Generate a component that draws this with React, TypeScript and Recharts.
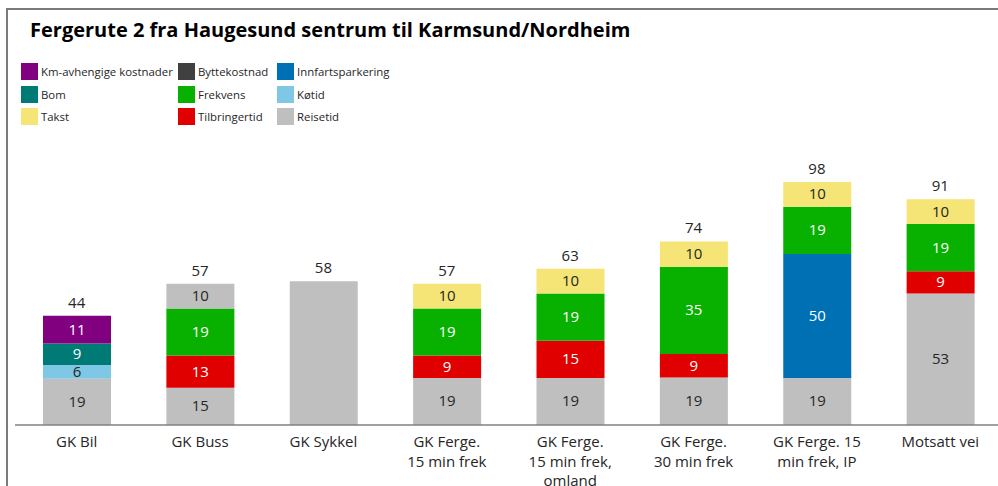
import { ComposedChart, Bar, Line, XAxis, YAxis, LabelList, Cell } from "recharts";

// categories (line breaks as in the original axis labels)
const categories = [
  "GK Bil",
  "GK Buss",
  "GK Sykkel",
  "GK Ferge.\n15 min frek",
  "GK Ferge.\n15 min frek,\nomland",
  "GK Ferge.\n30 min frek",
  "GK Ferge. 15\nmin frek, IP",
  "Motsatt vei",
];

const reisetid = [18.6, 15, 58, 19, 19, 19.2, 19, 53];
const tilbringertid = [0, 13, 0, 9, 15, 9.4, 0, 9];
const kotid = [5.6, 0, 0, 0, 0, 0, 0, 0];
const bom = [8.7, 0, 0, 0, 0, 0, 0, 0];
const kmKost = [11.2, 0, 0, 0, 0, 0, 0, 0];
const innfart = [0, 0, 0, 0, 0, 0, 50, 0];
const frekvens = [0, 19, 0, 19, 19, 35.2, 19, 19];
const takst = [0, 10, 0, 10, 10, 10.2, 10, 10];
const bytte = [0, 0, 0, 0, 0, 0, 0, 0];

const series = [
  { key: "reisetid", name: "Reisetid", values: reisetid, color: "#BFBFBF", text: "#262626" },
  { key: "tilbringertid", name: "Tilbringertid", values: tilbringertid, color: "#E00000", text: "#ffffff" },
  { key: "kotid", name: "Køtid", values: kotid, color: "#7EC8E6", text: "#262626" },
  { key: "bom", name: "Bom", values: bom, color: "#007A74", text: "#ffffff" },
  { key: "km", name: "Km-avhengige kostnader", values: kmKost, color: "#800080", text: "#ffffff" },
  { key: "innfart", name: "Innfartsparkering", values: innfart, color: "#0070B5", text: "#ffffff" },
  { key: "frekvens", name: "Frekvens", values: frekvens, color: "#08B000", text: "#ffffff" },
  { key: "takst", name: "Takst", values: takst, color: "#F5E476", text: "#262626" },
  { key: "bytte", name: "Byttekostnad", values: bytte, color: "#404040", text: "#ffffff" },
];

// legend layout, column by column
const legendColumns = [
  ["km", "bom", "takst"],
  ["bytte", "frekvens", "tilbringertid"],
  ["innfart", "kotid", "reisetid"],
];

const data = categories.map((name, i) => {
  const row: Record<string, number | string> = { name };
  let total = 0;
  series.forEach((s) => {
    row[s.key] = s.values[i];
    total += s.values[i];
  });
  row.total = total;
  return row;
});

const FONT = "'Open Sans', sans-serif";

const Tick = (props: any) => {
  const { x, y, payload } = props;
  const lines = String(payload.value).split("\n");
  return (
    <text x={x} y={y + 14} textAnchor="middle" fill="#262626" fontSize={15} fontFamily={FONT}>
      {lines.map((l, i) => (
        <tspan key={i} x={x} dy={i === 0 ? 0 : 19.5}>
          {l}
        </tspan>
      ))}
    </text>
  );
};

const segLabel = (color: string) => (props: any) => {
  const { x, y, width, height, value, index } = props;
  const v = Number(value);
  if (!v) return null;
  // single-segment bars only show the total
  if (Math.abs(v - Number(data[index].total)) < 0.01) return null;
  return (
    <text
      x={x + width / 2}
      y={y + height / 2}
      dy={5}
      textAnchor="middle"
      fill={color}
      fontSize={15}
      fontFamily={FONT}
    >
      {Math.round(v)}
    </text>
  );
};

const totalLabel = (props: any) => {
  const { x, y, value } = props;
  return (
    <text x={x} y={y - 8} textAnchor="middle" fill="#262626" fontSize={15} fontFamily={FONT}>
      {Math.round(Number(value))}
    </text>
  );
};

export default function App() {
  return (
    <div style={{ position: "absolute", left: 0, top: 0, width: 998, height: 486, overflow: "hidden", background: "#fff" }}>
      <div
        style={{
          position: "absolute",
          left: 6,
          top: 8,
          width: 1000,
          height: 500,
          borderLeft: "2px solid #7a7a7a",
          borderTop: "2px solid #7a7a7a",
        }}
      />
      <div
        style={{
          position: "absolute",
          left: 30,
          top: 16,
          fontFamily: FONT,
          fontWeight: 700,
          fontSize: 20,
          color: "#000",
          whiteSpace: "nowrap",
        }}
      >
        Fergerute 2 fra Haugesund sentrum til Karmsund/Nordheim
      </div>
      {legendColumns.map((col, ci) =>
        col.map((key, ri) => {
          const s = series.find((d) => d.key === key)!;
          return (
            <div
              key={key}
              style={{
                position: "absolute",
                left: [21, 178, 277][ci],
                top: 63 + ri * 22.5,
                display: "flex",
                alignItems: "center",
                fontFamily: FONT,
                fontSize: 11.4,
                color: "#262626",
                whiteSpace: "nowrap",
              }}
            >
              <span style={{ display: "inline-block", width: 17, height: 17, background: s.color, marginRight: 3 }} />
              {s.name}
            </div>
          );
        })
      )}
      <div style={{ position: "absolute", left: 0, top: 0 }}>
        <ComposedChart
          width={1010}
          height={486}
          data={data}
          margin={{ top: 177, right: 8, bottom: 0, left: 15 }}
          barSize={68}
        >
          <XAxis
            dataKey="name"
            tick={<Tick />}
            tickLine={false}
            axisLine={{ stroke: "#808080", strokeWidth: 1.3 }}
            interval={0}
            height={61}
          />
          <YAxis hide domain={[0, 100]} />
          {series.map((s) => (
            <Bar key={s.key} dataKey={s.key} name={s.name} stackId="a" fill={s.color} isAnimationActive={false}>
              {s.key === "takst" &&
                data.map((_, i) => <Cell key={i} fill={i === 1 ? "#BFBFBF" : s.color} />)}
              <LabelList dataKey={s.key} content={segLabel(s.text)} />
            </Bar>
          ))}
          <Line dataKey="total" stroke="none" dot={false} activeDot={false} isAnimationActive={false}>
            <LabelList dataKey="total" content={totalLabel} />
          </Line>
        </ComposedChart>
      </div>
    </div>
  );
}
